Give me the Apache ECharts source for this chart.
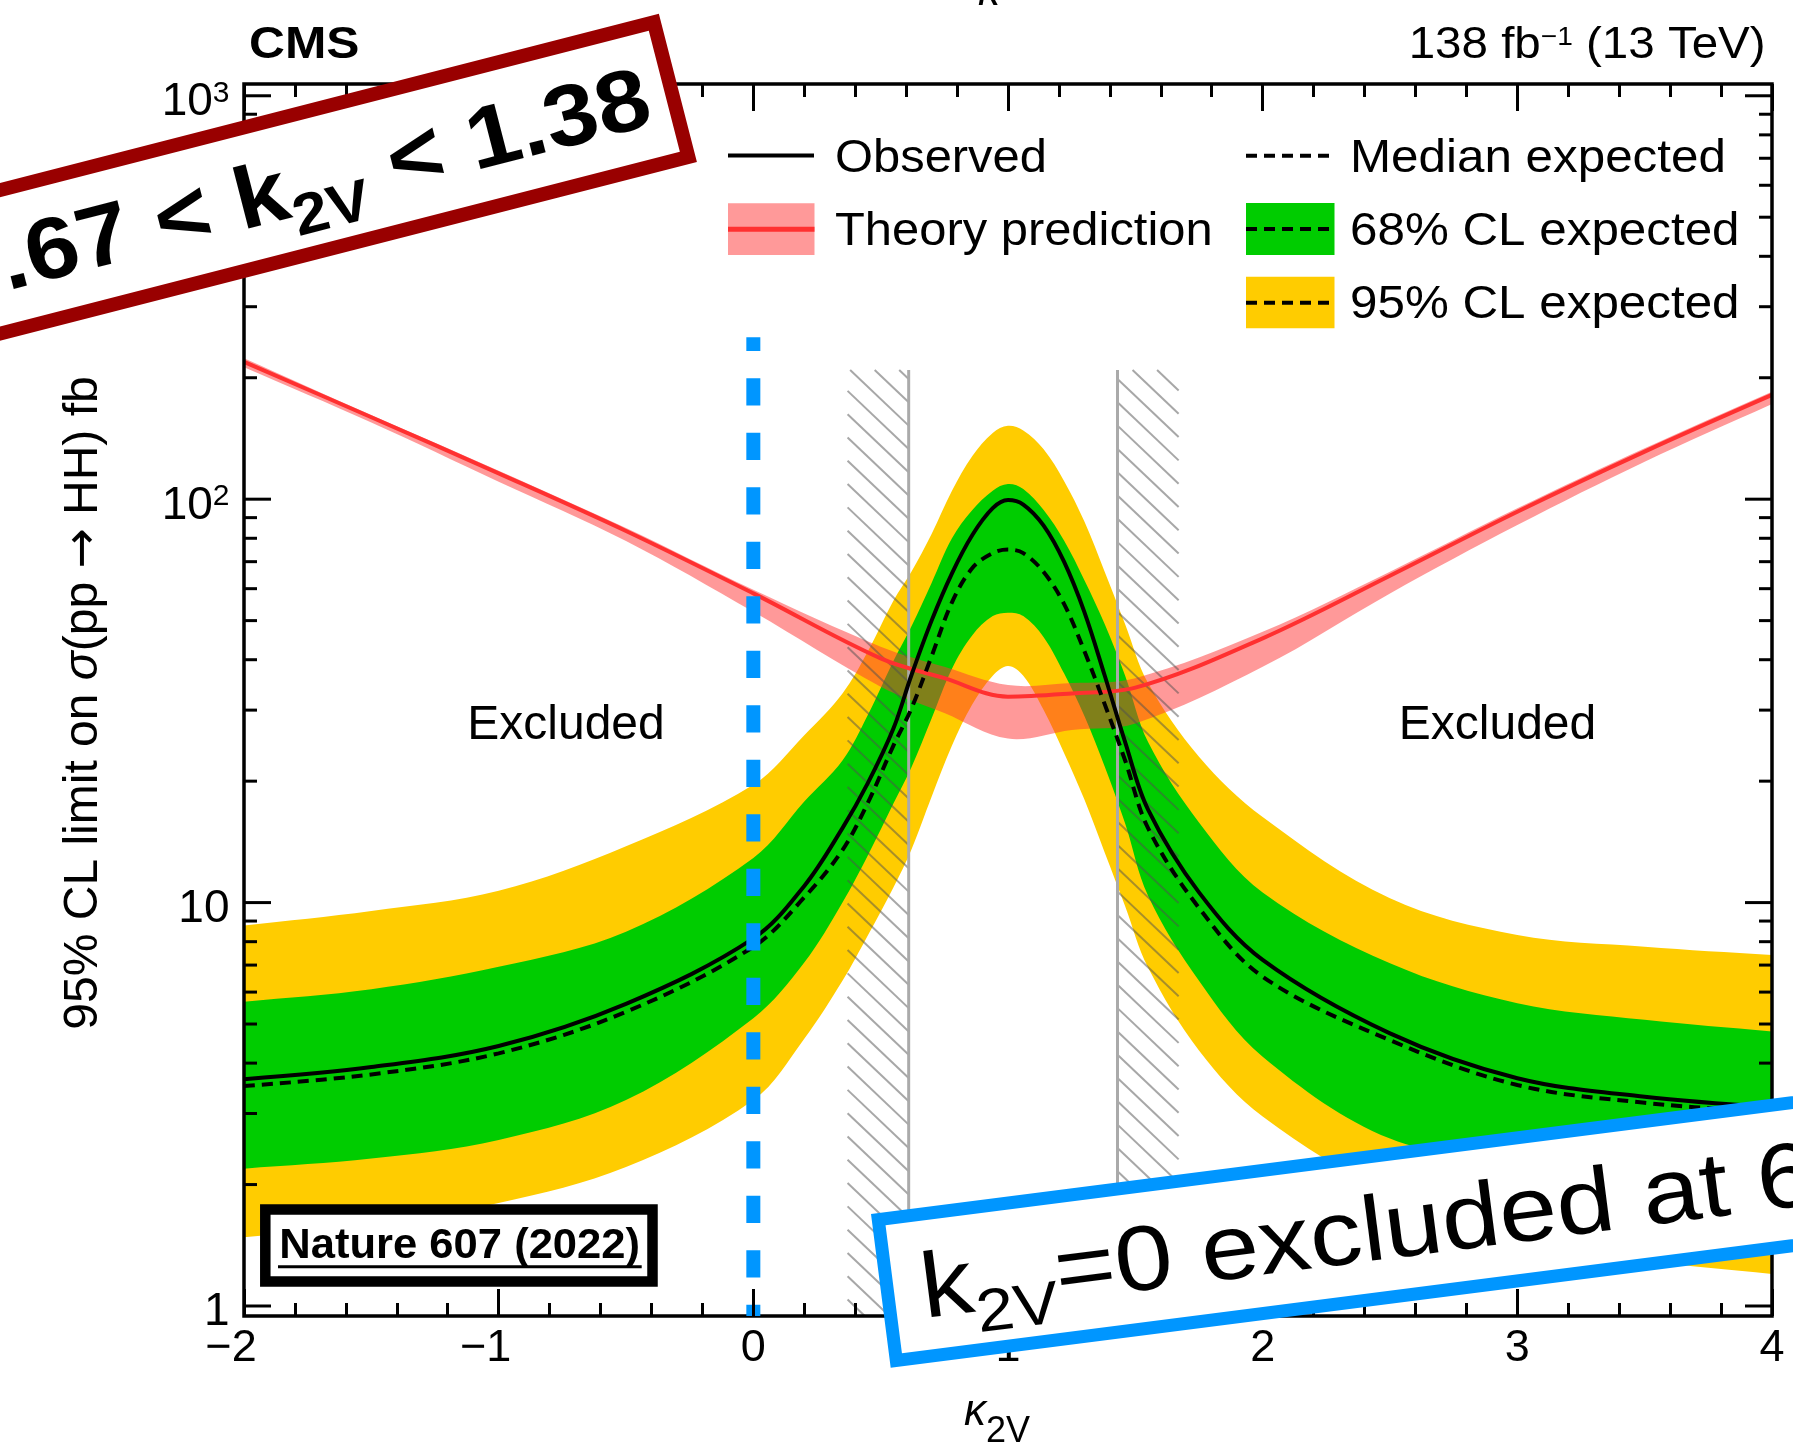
<!DOCTYPE html>
<html>
<head>
<meta charset="utf-8">
<style>
html, body { margin: 0; padding: 0; background: #fff; }
#chart { width: 1793px; height: 1456px; }
</style>
<script src="https://cdn.jsdelivr.net/npm/echarts@6/dist/echarts.min.js"></script>
</head>
<body>
<div id="chart"></div>
<script>
// ---- κ2V scan: 95% CL upper limits on σ(pp → HH) in fb ----
const kappa = [-2, -1.5, -1, -0.5, 0, 0.2, 0.35, 0.45, 0.55, 0.62, 0.7, 0.78, 0.86, 0.94, 1.0,
               1.06, 1.14, 1.22, 1.3, 1.38, 1.46, 1.55, 1.75, 2.0, 2.5, 3.0, 3.5, 4.0];
const observed = [3.65, 3.91, 4.41, 5.61, 8.15, 11.0, 15.3, 19.8, 27.0, 36.5, 50.0, 65.5, 81.5, 95.0, 99.5,
                  97.0, 86.0, 70.0, 52.5, 36.5, 25.0, 17.0, 10.6, 7.21, 4.74, 3.67, 3.30, 3.11];
const expectedMedian = [3.51, 3.75, 4.23, 5.36, 7.77, 10.3, 13.5, 17.7, 24.5, 30.2, 40.8, 55.5, 67.5, 73.5, 75.0,
                        73.5, 66.0, 55.0, 42.0, 31.0, 22.5, 15.3, 9.7, 6.55, 4.56, 3.53, 3.19, 3.02];
const expected68Up = [5.68, 6.1, 6.93, 8.47, 12.9, 17.8, 22.5, 29.2, 39.7, 48.3, 62.0, 80.0, 94.0, 105.0, 109.0,
                      106.0, 94.0, 79.0, 63.0, 49.0, 36.5, 25.0, 15.8, 10.6, 7.07, 5.63, 5.12, 4.79];
const expected68Down = [2.19, 2.32, 2.58, 3.24, 5.17, 7.1, 10.0, 13.1, 17.6, 21.6, 28.6, 38.0, 46.0, 51.3, 52.3,
                        51.3, 45.5, 37.0, 29.0, 21.7, 15.7, 10.4, 6.4, 4.15, 2.6, 2.3, 2.2, 2.15];
const expected95Up = [8.77, 9.53, 10.7, 13.8, 19.6, 26.0, 33.0, 42.0, 56.0, 66.0, 82.0, 105.0, 128.0, 146.0, 152.0,
                      148.0, 133.0, 111.0, 88.0, 66.0, 49.0, 35.0, 23.0, 16.3, 10.25, 8.31, 7.77, 7.41];
const expected95Down = [1.48, 1.6, 1.80, 2.21, 3.24, 4.6, 6.4, 8.3, 10.9, 13.5, 18.3, 24.5, 31.0, 36.5, 38.6,
                        36.5, 30.0, 23.5, 18.0, 13.3, 9.8, 6.9, 4.3, 2.95, 1.9, 1.5, 1.3, 1.2];

// ---- theory prediction with its uncertainty band ----
const theoryKappa = [-2, -1.5, -1, -0.5, 0, 0.5, 0.75, 1, 1.25, 1.5, 2, 2.5, 3, 3.5, 4];
const theory     = [219, 159.6, 115.9, 83.4, 58.4, 40.3, 36.0, 32.4, 33.0, 34.1, 45.2, 64.6, 93.1, 131.2, 181.3];
const theoryUp   = [223.6, 161.7, 117.7, 84.8, 59.6, 43.1, 38.4, 34.6, 35.0, 36.0, 46.9, 66.1, 94.9, 133.7, 184.7];
const theoryDown = [212.3, 154.9, 110.5, 78.8, 52.6, 34.3, 29.5, 25.5, 26.8, 27.8, 38.4, 58.4, 86.3, 123.9, 172.2];

// edges of the observed excluded regions (hatched side points outwards)
const excludedEdges = [0.61, 1.43];

// ---- axis ticks ----
const yMajorTicks = [1, 10, 100, 1000];
const yMinorTicks = [2, 3, 4, 5, 6, 7, 8, 9, 20, 30, 40, 50, 60, 70, 80, 90, 200, 300, 400, 500, 600, 700, 800, 900];
const yTickBase = ['1', '10', '10', '10'];
const yTickExp = ['', '', '2', '3'];

// axis ranges and decoration extents
const X_MIN = -2, X_MAX = 4;
const Y_MIN = 0.9445, Y_MAX = 1069.5;
const HATCH_TOP = 209, HATCH_WIDTH = 0.24;
const KAPPA0_LINE_TOP = 251.9;

const FONT = '"Liberation Sans", Arial, Helvetica, sans-serif';
const mctx = document.createElement('canvas').getContext('2d');
function fnt(p) {
  return (p.italic ? 'italic ' : '') + (p.bold ? 'bold ' : '') + p.size + 'px ' + (p.family || FONT);
}
function measure(p) { mctx.font = fnt(p); mctx.textBaseline = 'alphabetic'; return mctx.measureText(p.t).width; }
function midShift(p) {
  mctx.font = fnt(p); mctx.textBaseline = 'middle';
  const a = mctx.measureText(p.t).alphabeticBaseline;
  mctx.textBaseline = 'alphabetic';
  return (typeof a === 'number' && a !== 0) ? Math.abs(a) : 0.34 * p.size;
}
// lay out a sequence of text pieces on a shared baseline (sub/superscripts via dy)
function runs(parts, x0, baseY, align, sx) {
  sx = sx || 1;
  const ws = parts.map(p => measure(p) * sx);
  const total = ws.reduce((a, b) => a + b, 0);
  let x = align === 'right' ? x0 - total : (align === 'center' ? x0 - total / 2 : x0);
  return parts.map((p, i) => {
    const el = {
      type: 'text', x: x, y: baseY + (p.dy || 0) - midShift(p), scaleX: sx,
      style: { text: p.t, font: fnt(p), fill: p.color || '#000',
               textAlign: 'left', textVerticalAlign: 'middle', align: 'left', verticalAlign: 'middle' }
    };
    x += ws[i];
    return el;
  });
}

// smooth curve through pixel points (same construction as the line series smoothing)
function splineSeg(p, s) {
  let d = '';
  const dist = (a, b) => Math.hypot(b[0] - a[0], b[1] - a[1]);
  for (let i = 0; i < p.length - 1; i++) {
    const p0 = p[i - 1] || p[i], p1 = p[i], p2 = p[i + 1], p3 = p[i + 2] || p[i + 1];
    const d01 = dist(p0, p1), d12 = dist(p1, p2), d23 = dist(p2, p3);
    const r1 = d12 / ((d01 + d12) || 1), r2 = d12 / ((d12 + d23) || 1);
    const c1 = [p1[0] + (p2[0] - p0[0]) * s * r1, p1[1] + (p2[1] - p0[1]) * s * r1];
    const c2 = [p2[0] - (p3[0] - p1[0]) * s * r2, p2[1] - (p3[1] - p1[1]) * s * r2];
    d += 'C' + c1[0] + ' ' + c1[1] + ' ' + c2[0] + ' ' + c2[1] + ' ' + p2[0] + ' ' + p2[1];
  }
  return d;
}
function bandSeries(xs, ups, downs, color, z) {
  return {
    type: 'custom', coordinateSystem: 'cartesian2d', silent: true, clip: true, z: z,
    data: [[xs[0], ups[0]]],
    renderItem: function (params, api) {
      const up = xs.map((x, i) => api.coord([x, ups[i]]));
      const dn = xs.map((x, i) => api.coord([x, downs[i]])).reverse();
      const d = 'M' + up[0][0] + ' ' + up[0][1] + splineSeg(up, 0.35) +
                'L' + dn[0][0] + ' ' + dn[0][1] + splineSeg(dn, 0.35) + 'Z';
      return { type: 'path', shape: { pathData: d }, style: { fill: color, stroke: null } };
    }
  };
}
const pairs = (xs, ys) => xs.map((x, i) => [x, ys[i]]);

const GREEN = '#00cc00', YELLOW = '#ffcc00', RED = '#ff3030', PINK = 'rgba(255,51,51,0.5)', BLUE = '#0096ff';

const xAxisCommon = {
  type: 'value', min: X_MIN, max: X_MAX, interval: 1, z: 10,
  axisLine: { show: false },
  axisTick: { show: true, inside: true, length: 27, lineStyle: { color: '#000', width: 3 } },
  minorTick: { show: true, splitNumber: 5, length: 13, lineStyle: { color: '#000', width: 3 } },
  splitLine: { show: false }, minorSplitLine: { show: false }
};

const option = {
  backgroundColor: '#fff',
  animation: false,
  grid: { left: 244, right: 21, top: 84, bottom: 140, containLabel: false, outerBoundsMode: 'none' },
  xAxis: [
    Object.assign({}, xAxisCommon, {
      position: 'bottom',
      axisLabel: {
        show: true, margin: 10, fontSize: 45, fontFamily: FONT, color: '#000',
        showMinLabel: true, showMaxLabel: true,
        formatter: v => v < 0 ? '{n|\u2212' + Math.abs(v) + '}' : String(v),
        rich: { n: { fontSize: 45, fontFamily: FONT, color: '#000', padding: [0, 26, 0, 0] } }
      }
    }),
    Object.assign({}, xAxisCommon, { position: 'top', axisLabel: { show: false } })
  ],
  yAxis: {
    type: 'log', logBase: 10, min: Y_MIN, max: Y_MAX,
    axisLine: { show: false }, axisTick: { show: false }, axisLabel: { show: false },
    splitLine: { show: false }, minorTick: { show: false }
  },
  series: [
    bandSeries(kappa, expected95Up, expected95Down, YELLOW, 2),
    bandSeries(kappa, expected68Up, expected68Down, GREEN, 2),
    bandSeries(theoryKappa, theoryUp, theoryDown, PINK, 3),
    {
      // hatched observed exclusion boundaries
      type: 'custom', coordinateSystem: 'cartesian2d', silent: true, clip: true, z: 4,
      data: [[0, 1]],
      renderItem: function (params, api) {
        const children = [];
        const top = api.coord([0, HATCH_TOP])[1], bottom = api.coord([0, Y_MIN])[1];
        const s = 0.95, gap = 23.3;
        excludedEdges.forEach((edge, idx) => {
          const xb = api.coord([edge, 1])[0];
          const xo = api.coord([idx === 0 ? edge - HATCH_WIDTH : edge + HATCH_WIDTH, 1])[0];
          const xl = Math.min(xb, xo), xr = Math.max(xb, xo);
          for (let n = -10; n < 60; n++) {
            const yb = top + 9 + n * gap;
            const xa = Math.max(xl, xb + (top - yb) / s), xz = Math.min(xr, xb + (bottom - yb) / s);
            if (xz > xa) {
              children.push({ type: 'line',
                shape: { x1: xa, y1: yb + s * (xa - xb), x2: xz, y2: yb + s * (xz - xb) },
                style: { stroke: 'rgba(80,80,80,0.5)', lineWidth: 2 } });
            }
          }
          children.push({ type: 'line', shape: { x1: xb, y1: top, x2: xb, y2: bottom },
                          style: { stroke: '#aaaaaa', lineWidth: 3 } });
        });
        return { type: 'group', children: children };
      }
    },
    {
      type: 'line', name: 'Theory prediction', data: pairs(theoryKappa, theory), smooth: 0.35,
      showSymbol: false, silent: true, z: 5, lineStyle: { color: RED, width: 4 }
    },
    {
      type: 'line', name: 'Median expected', data: pairs(kappa, expectedMedian), smooth: 0.35,
      showSymbol: false, silent: true, z: 5, lineStyle: { color: '#000', width: 4, type: [11, 7] }
    },
    {
      type: 'line', name: 'Observed', data: pairs(kappa, observed), smooth: 0.35,
      showSymbol: false, silent: true, z: 5, lineStyle: { color: '#000', width: 4 }
    },
    {
      // frame, log-axis ticks on both sides, decade labels
      type: 'custom', coordinateSystem: 'cartesian2d', silent: true, clip: false, z: 8,
      data: [[0, 1]],
      renderItem: function (params, api) {
        const cs = params.coordSys;
        const children = [];
        const tick = (v, len) => {
          const p = api.coord([X_MIN, v]), q = api.coord([X_MAX, v]);
          children.push({ type: 'line', shape: { x1: p[0], y1: p[1], x2: p[0] + len, y2: p[1] },
                          style: { stroke: '#000', lineWidth: 3 } });
          children.push({ type: 'line', shape: { x1: q[0] - len, y1: q[1], x2: q[0], y2: q[1] },
                          style: { stroke: '#000', lineWidth: 3 } });
        };
        yMajorTicks.forEach(v => tick(v, 27));
        yMinorTicks.forEach(v => tick(v, 13));
        children.push({ type: 'rect', shape: { x: cs.x, y: cs.y, width: cs.width, height: cs.height },
                        style: { fill: 'none', stroke: '#000', lineWidth: 3.5 } });
        yMajorTicks.forEach((v, i) => {
          const p = api.coord([X_MIN, v]);
          let xr = p[0] - 14.5;
          if (yTickExp[i]) {
            const sup = runs([{ t: yTickExp[i], size: 30 }], xr, p[1] + 6, 'right');
            sup.forEach(e => children.push(e));
            xr -= measure({ t: yTickExp[i], size: 30 });
          }
          runs([{ t: yTickBase[i], size: 46 }], xr, p[1] + 19.5, 'right').forEach(e => children.push(e));
        });
        return { type: 'group', children: children };
      }
    },
    {
      // κ2V = 0 marker
      type: 'custom', coordinateSystem: 'cartesian2d', silent: true, clip: false, z: 9,
      data: [[0, 1]],
      renderItem: function (params, api) {
        const a = api.coord([0, KAPPA0_LINE_TOP]), b = api.coord([0, Y_MIN]);
        return { type: 'line', shape: { x1: a[0], y1: a[1], x2: b[0], y2: b[1] },
                 style: { stroke: BLUE, lineWidth: 14, lineDash: [27.3, 27.2], lineDashOffset: 13.6, lineCap: 'butt' } };
      }
    }
  ],
  graphic: { elements: [] }
};

// ---- labels, legend and boxed notes (drawn above the plot) ----
const G = option.graphic.elements;
const setZ = (e, z) => { e.z = z; e.zlevel = 0; (e.children || []).forEach(c => setZ(c, z)); };
const add = arr => arr.forEach(e => { setZ(e, 100); G.push(e); });

add(runs([{ t: 'CMS', size: 44, bold: true }], 249, 58.3, 'left', 1.13));
add(runs([{ t: '138 fb', size: 44 }, { t: '\u22121', size: 26, dy: -13.3 }, { t: ' (13 TeV)', size: 44 }],
         1765.6, 58.3, 'right', 1.08));
add(runs([{ t: '\u03ba', size: 44, italic: true }], 978, 5, 'left'));

// legend
add([
  { type: 'line', shape: { x1: 728, y1: 155.5, x2: 814, y2: 155.5 }, style: { stroke: '#000', lineWidth: 4 } },
  { type: 'rect', shape: { x: 728, y: 203.3, width: 86.5, height: 51.7 }, style: { fill: PINK } },
  { type: 'line', shape: { x1: 728, y1: 229.3, x2: 814.5, y2: 229.3 }, style: { stroke: RED, lineWidth: 5 } },
  { type: 'line', shape: { x1: 1246, y1: 155.7, x2: 1334, y2: 155.7 }, style: { stroke: '#000', lineWidth: 4, lineDash: [11, 7] } },
  { type: 'rect', shape: { x: 1246, y: 203, width: 88.5, height: 52 }, style: { fill: GREEN } },
  { type: 'line', shape: { x1: 1246, y1: 229, x2: 1334.5, y2: 229 }, style: { stroke: '#000', lineWidth: 4, lineDash: [11, 7] } },
  { type: 'rect', shape: { x: 1246, y: 276.7, width: 88.5, height: 51.6 }, style: { fill: YELLOW } },
  { type: 'line', shape: { x1: 1246, y1: 302.7, x2: 1334.5, y2: 302.7 }, style: { stroke: '#000', lineWidth: 4, lineDash: [11, 7] } }
]);
add(runs([{ t: 'Observed', size: 47 }], 835, 171.7, 'left', 1.04));
add(runs([{ t: 'Theory prediction', size: 47 }], 835, 245, 'left', 1.04));
add(runs([{ t: 'Median expected', size: 47 }], 1350, 171.7, 'left', 1.05));
add(runs([{ t: '68% CL expected', size: 47 }], 1350, 245, 'left', 1.05));
add(runs([{ t: '95% CL expected', size: 47 }], 1350, 318.3, 'left', 1.05));

add(runs([{ t: 'Excluded', size: 48 }], 566, 739.3, 'center'));
add(runs([{ t: 'Excluded', size: 48 }], 1497.5, 739.3, 'center'));

// axis titles
add([{ type: 'group', x: 96.7, y: 703, rotation: Math.PI / 2,
       children: runs([{ t: '95% CL limit on ', size: 48 }, { t: '\u03c3', size: 48, italic: true },
                       { t: '(pp ', size: 48 }, { t: '\u2192', size: 48, family: '"DejaVu Sans", sans-serif' },
                       { t: ' HH) fb', size: 48 }], 0, 0, 'center') }]);
add(runs([{ t: '\u03ba', size: 44, italic: true }, { t: '2V', size: 36, dy: 17 }], 964, 1425, 'left'));

// journal reference box
add([
  { type: 'rect', shape: { x: 265.3, y: 1209.6, width: 387.2, height: 71.9 },
    style: { fill: '#fff', stroke: '#000', lineWidth: 10.5 } },
  { type: 'line', shape: { x1: 278, y1: 1266.7, x2: 641.7, y2: 1266.7 }, style: { stroke: '#000', lineWidth: 3 } }
]);
add(runs([{ t: 'Nature 607 (2022)', size: 42, bold: true }], 279.3, 1258.3, 'left', 1.037));

// allowed κ2V interval (tilted note)
add([{ type: 'group', x: 655.2, y: 124.1, rotation: 14.4 * Math.PI / 180,
       children: [{ type: 'rect', shape: { x: -1400, y: -99, width: 1424, height: 139 },
                    style: { fill: '#fff', stroke: '#990000', lineWidth: 14 } }]
         .concat(runs([{ t: '0.67 < k', size: 87, bold: true }, { t: '2V', size: 58, bold: true, dy: 20 },
                       { t: ' < 1.38', size: 87, bold: true }], 0, 0, 'right', 1.1)) }]);

// κ2V = 0 exclusion note (tilted)
add([{ type: 'group', x: 871, y: 1214, rotation: 7.3 * Math.PI / 180,
       children: [{ type: 'rect', shape: { x: 6.5, y: 6.5, width: 1400, height: 142 },
                    style: { fill: '#fff', stroke: BLUE, lineWidth: 13 } }]
         .concat(runs([{ t: 'k', size: 92 }, { t: '2V', size: 60, dy: 21 },
                       { t: '=0 excluded at 6.6\u03c3', size: 92 }], 40, 110, 'left', 1.13)) }]);

const chart = echarts.init(document.getElementById('chart'), null, { renderer: 'canvas', width: 1793, height: 1456 });
chart.setOption(option);
</script>
</body>
</html>
